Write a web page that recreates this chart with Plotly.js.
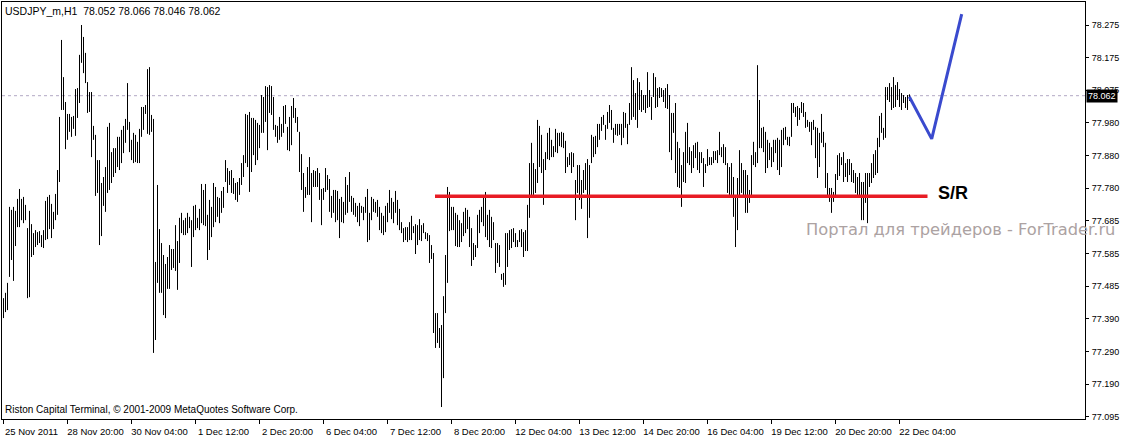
<!DOCTYPE html>
<html><head><meta charset="utf-8">
<script src="https://cdn.plot.ly/plotly-3.0.1.min.js"></script>
<style>html,body{margin:0;padding:0;background:#fff}#chart{width:1123px;height:436px}</style>
</head><body><div id="chart"></div>
<script>
const chartTitle = "USDJPY_m,H1\u00a0 78.052 78.066 78.046 78.062";
const copyrightText = "Riston Capital Terminal, \u00a9 2001-2009 MetaQuotes Software Corp.";
const watermarkText = "Портал для трейдеров - ForTrader.ru";

// Hourly bars (H1), 25 Nov 2011 12:00 -> 22 Dec 2011 09:00
const highs = [
77.452,77.468,77.498,77.727,77.718,77.727,77.715,77.751,77.781,77.751,77.757,77.733,77.663,77.715,77.675,77.648,77.657,77.651,77.654,77.642,
77.657,77.745,77.757,77.763,77.736,77.712,77.766,77.838,77.998,78.230,78.118,78.043,78.007,78.007,77.998,78.001,78.082,78.085,78.185,78.275,
78.239,78.191,78.103,78.073,78.073,77.971,77.944,77.868,77.868,77.799,77.817,77.847,77.968,77.980,77.892,77.904,77.904,77.938,77.938,77.959,
77.971,77.992,78.100,77.983,77.929,77.950,77.944,77.923,77.962,78.028,78.028,78.034,78.142,78.148,78.004,77.992,77.561,77.793,77.660,77.618,
77.582,77.555,77.576,77.612,77.600,77.600,77.672,77.624,77.694,77.709,77.687,77.694,77.709,77.697,77.687,77.730,77.733,77.694,77.721,77.796,
77.778,77.796,77.703,77.748,77.727,77.799,77.787,77.757,77.754,77.775,77.787,77.868,77.844,77.835,77.838,77.814,77.799,77.802,77.814,77.859,
77.883,78.007,78.004,78.013,77.995,77.995,77.989,77.980,77.974,78.064,78.058,78.091,78.088,78.094,78.091,78.058,77.974,77.971,77.998,77.977,
78.031,78.034,77.968,77.998,78.031,78.055,78.025,77.998,77.953,77.886,77.829,77.787,77.847,77.877,77.829,77.838,77.835,77.844,77.829,77.781,
77.784,77.844,77.823,77.811,77.760,77.778,77.778,77.775,77.751,77.757,77.742,77.817,77.793,77.832,77.760,77.754,77.739,77.730,77.739,77.730,
77.727,77.757,77.781,77.709,77.757,77.751,77.742,77.748,77.727,77.709,77.700,77.730,77.739,77.778,77.754,77.742,77.775,77.748,77.721,77.681,
77.663,77.666,77.666,77.681,77.700,77.669,77.675,77.672,77.690,77.672,77.678,77.651,77.648,77.642,77.612,77.588,77.407,77.407,77.362,77.371,
77.458,77.582,77.787,77.772,77.727,77.727,77.709,77.703,77.687,77.678,77.712,77.724,77.718,77.697,77.663,77.618,77.612,77.703,77.718,77.727,
77.757,77.772,77.703,77.718,77.697,77.681,77.618,77.618,77.612,77.525,77.528,77.648,77.648,77.657,77.660,77.663,77.648,77.627,77.657,77.660,
77.651,77.657,77.733,77.859,77.920,77.859,77.841,77.989,77.971,77.944,77.871,77.892,77.950,77.965,77.929,77.910,77.962,77.950,77.950,77.953,
77.950,77.926,77.877,77.889,77.892,77.889,77.808,77.853,77.853,77.808,77.838,77.859,77.871,77.853,77.944,77.938,77.941,77.977,77.977,77.998,
78.004,77.974,78.013,78.034,78.019,77.965,77.977,77.977,77.977,77.977,78.013,78.010,77.977,78.040,78.148,78.109,78.070,78.115,78.103,78.079,
78.064,78.064,78.133,78.079,78.058,78.130,78.118,78.085,78.088,78.085,78.079,78.085,78.097,78.064,78.010,78.010,78.040,77.923,77.904,77.853,
77.892,77.953,77.980,77.907,77.895,77.913,77.920,77.923,77.892,77.892,77.874,77.856,77.901,77.877,77.877,77.895,77.895,77.898,77.953,77.907,
77.916,77.907,77.859,77.847,77.859,77.817,77.757,77.814,77.898,77.859,77.838,77.838,77.823,77.778,77.883,77.923,77.892,78.154,78.049,77.965,
77.968,77.953,77.929,77.920,77.907,77.929,77.929,77.935,77.929,77.959,77.965,77.968,77.938,77.938,78.040,78.040,78.028,78.031,78.025,78.043,
78.040,78.013,77.989,77.983,77.983,77.989,77.968,77.965,77.950,78.007,77.953,77.920,77.829,77.784,77.784,77.772,77.826,77.883,77.889,77.877,
77.892,77.859,77.871,77.871,77.859,77.838,77.829,77.817,77.829,77.802,77.802,77.829,77.829,77.829,77.859,77.886,77.898,77.935,78.001,78.010,
77.965,78.088,78.088,78.100,78.088,78.118,78.094,78.103,78.082,78.070,78.064,78.058,78.064,78.066
];
const lows = [
77.392,77.410,77.416,77.516,77.567,77.504,77.609,77.666,77.666,77.687,77.678,77.687,77.452,77.455,77.576,77.582,77.606,77.612,77.618,77.606,
77.603,77.627,77.630,77.660,77.633,77.660,77.687,77.703,77.802,78.019,78.019,77.901,77.929,77.953,77.938,77.962,77.941,77.995,78.040,78.161,
78.130,78.100,78.010,78.013,77.877,77.929,77.760,77.769,77.612,77.639,77.730,77.712,77.769,77.778,77.799,77.817,77.829,77.847,77.838,77.859,
77.889,77.920,77.959,77.892,77.868,77.859,77.862,77.859,77.859,77.938,77.959,78.007,77.947,77.944,77.953,77.287,77.326,77.498,77.468,77.468,
77.401,77.392,77.480,77.480,77.537,77.543,77.534,77.477,77.558,77.648,77.642,77.642,77.648,77.663,77.546,77.636,77.657,77.663,77.657,77.678,
77.672,77.669,77.567,77.597,77.636,77.666,77.681,77.697,77.678,77.709,77.724,77.802,77.769,77.793,77.769,77.766,77.748,77.742,77.763,77.793,
77.817,77.859,77.847,77.772,77.832,77.883,77.853,77.868,77.904,77.950,77.950,77.983,77.898,78.010,78.004,77.959,77.938,77.920,77.929,77.938,
77.950,77.977,77.898,77.895,77.913,77.995,77.980,77.953,77.832,77.778,77.712,77.754,77.763,77.763,77.681,77.787,77.787,77.787,77.748,77.672,
77.748,77.772,77.778,77.712,77.694,77.709,77.681,77.687,77.633,77.681,77.678,77.703,77.709,77.742,77.712,77.703,77.697,77.681,77.669,77.709,
77.687,77.709,77.621,77.627,77.687,77.712,77.709,77.697,77.657,77.648,77.642,77.651,77.681,77.709,77.690,77.678,77.709,77.672,77.657,77.648,
77.621,77.627,77.621,77.627,77.627,77.648,77.585,77.612,77.627,77.624,77.648,77.630,77.624,77.558,77.570,77.347,77.302,77.317,77.302,77.124,
77.211,77.407,77.498,77.654,77.657,77.657,77.609,77.606,77.606,77.621,77.639,77.648,77.660,77.606,77.549,77.567,77.576,77.603,77.648,77.681,
77.669,77.636,77.627,77.606,77.603,77.627,77.528,77.558,77.546,77.507,77.486,77.492,77.546,77.597,77.603,77.621,77.606,77.606,77.621,77.606,
77.576,77.594,77.594,77.694,77.757,77.763,77.769,77.799,77.847,77.829,77.733,77.838,77.871,77.868,77.877,77.877,77.892,77.889,77.910,77.907,
77.904,77.829,77.847,77.853,77.829,77.847,77.687,77.769,77.748,77.721,77.769,77.778,77.633,77.694,77.859,77.877,77.886,77.907,77.929,77.956,
77.974,77.929,77.962,77.980,77.959,77.920,77.944,77.941,77.944,77.913,77.935,77.965,77.916,77.974,77.989,77.998,77.989,77.965,78.019,78.013,
78.019,78.010,78.025,78.028,77.989,78.058,78.025,78.028,78.055,78.058,78.043,78.025,78.022,77.892,77.868,77.950,77.829,77.787,77.784,77.727,
77.802,77.799,77.859,77.853,77.829,77.844,77.874,77.838,77.829,77.859,77.787,77.829,77.850,77.853,77.853,77.859,77.868,77.859,77.883,77.877,
77.859,77.853,77.769,77.763,77.763,77.697,77.606,77.657,77.760,77.769,77.754,77.709,77.709,77.739,77.757,77.853,77.847,77.859,77.904,77.904,
77.892,77.829,77.844,77.868,77.847,77.862,77.889,77.838,77.823,77.847,77.913,77.929,77.913,77.910,77.938,78.010,77.998,77.971,77.989,78.010,
77.998,77.965,77.968,77.953,77.913,77.959,77.874,77.814,77.847,77.920,77.907,77.784,77.757,77.742,77.709,77.742,77.757,77.808,77.820,77.853,
77.802,77.817,77.802,77.823,77.802,77.799,77.769,77.757,77.754,77.687,77.687,77.739,77.678,77.787,77.799,77.814,77.823,77.829,77.907,77.950,
77.929,77.935,78.049,78.043,78.019,78.025,78.028,78.049,78.028,78.019,78.040,78.025,78.019,78.046
];

const timeTickBars = [0,32,64,96,128,160,192,224,256,288,320,352,384,416,448];
const timeTickLabels = ["25 Nov 2011","28 Nov 20:00","30 Nov 04:00","1 Dec 12:00","2 Dec 20:00","6 Dec 04:00","7 Dec 12:00","8 Dec 20:00","12 Dec 04:00","13 Dec 12:00","14 Dec 20:00","16 Dec 04:00","19 Dec 12:00","20 Dec 20:00","22 Dec 04:00"];
const priceTickVals = [78.275,78.17667,78.07833,77.98,77.88167,77.78333,77.685,77.58667,77.48833,77.39,77.29167,77.19333,77.095];
const priceTickText = ["78.275","78.175","78.075","77.980","77.880","77.780","77.685","77.585","77.485","77.390","77.290","77.190","77.095"];

const lastPrice = 78.062;
const srLevel = 77.759;
const srBars = [215.75, 462];
const projectionBars = [452.9, 464.1, 479.1];
const projectionPrices = [78.059, 77.932, 78.308];

const bx = [], by = [];
for (let i = 0; i < highs.length; i++) {
  bx.push(i, i, null);
  by.push(lows[i], highs[i], null);
}

const font = 'Liberation Sans, Arial, sans-serif';
const traces = [
  {type:'scatter', mode:'lines', x:bx, y:by, line:{color:'#000', width:1}, hoverinfo:'skip'},
  {type:'scatter', mode:'lines', x:srBars, y:[srLevel, srLevel], line:{color:'rgb(232,28,36)', width:3.3}, hoverinfo:'skip'},
  {type:'scatter', mode:'lines', x:projectionBars, y:projectionPrices, line:{color:'rgb(58,74,206)', width:3}, hoverinfo:'skip'}
];

const layout = {
  width:1123, height:436,
  margin:{l:2, r:38, t:2, b:17, pad:0},
  paper_bgcolor:'#fff', plot_bgcolor:'#fff', showlegend:false,
  xaxis:{range:[-0.75, 540.75], showgrid:false, zeroline:false, showline:true, mirror:true,
    linecolor:'#000', linewidth:1, ticks:'outside', ticklen:4, tickcolor:'#000', tickwidth:1,
    tickvals:timeTickBars, ticktext:timeTickLabels, ticklabelshift:28, ticklabelstandoff:0,
    tickfont:{family:font, size:9.5, color:'#000'}, fixedrange:true},
  yaxis:{range:[77.0879, 78.3443], side:'right', showgrid:false, zeroline:false, showline:true, mirror:true,
    linecolor:'#000', linewidth:1, ticks:'outside', ticklen:3, tickcolor:'#000', tickwidth:1,
    tickvals:priceTickVals, ticktext:priceTickText, ticklabelstandoff:1,
    tickfont:{family:font, size:9, color:'#000'}, fixedrange:true},
  shapes:[
    {type:'line', xref:'paper', x0:0, x1:1, yref:'y', y0:lastPrice, y1:lastPrice, layer:'below',
     line:{color:'rgb(178,168,196)', width:1, dash:'dot'}}
  ],
  annotations:[
    {xref:'paper', yref:'paper', x:0, y:1, xanchor:'left', yanchor:'top', xshift:1, yshift:-1,
     text:chartTitle, showarrow:false, font:{family:font, size:10.5, color:'#000'}},
    {xref:'paper', yref:'paper', x:0, y:0, xanchor:'left', yanchor:'bottom', xshift:1, yshift:2,
     text:copyrightText, showarrow:false, font:{family:font, size:10, color:'#000'}},
    {xref:'x', yref:'y', x:srBars[1], y:srLevel, xanchor:'left', yanchor:'middle', xshift:8, yshift:3,
     text:'<b>S/R</b>', showarrow:false, font:{family:font, size:18, color:'#000'}},
    {xref:'paper', yref:'paper', x:1, y:0.4556, xanchor:'right', yanchor:'middle', xshift:32,
     text:watermarkText, showarrow:false, font:{family:'DejaVu Sans, sans-serif', size:16.3, color:'rgb(172,162,162)'}},
    {xref:'paper', yref:'y', x:1, y:lastPrice, xanchor:'left', yanchor:'middle', xshift:1,
     text:'78.062', showarrow:false, bgcolor:'#000', borderpad:1, font:{family:font, size:9, color:'#fff'}}
  ]
};

Plotly.newPlot('chart', traces, layout, {staticPlot:true, displayModeBar:false});
</script>
</body></html>
